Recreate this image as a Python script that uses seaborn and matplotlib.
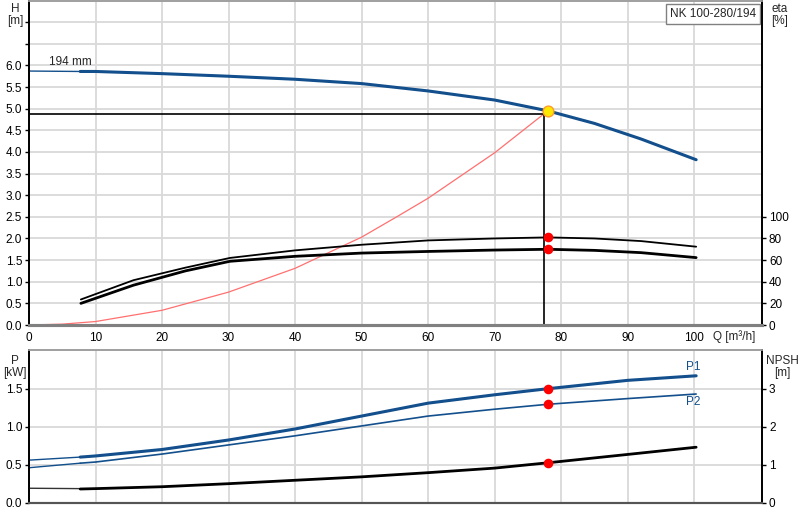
import numpy as np
import pandas as pd
import seaborn as sns
import matplotlib.pyplot as plt

# Pump curve data
q_ext = [0, 7.7]
h_ext = [5.87, 5.86]
q_h = [7.7, 10, 20, 30, 40, 50, 60, 70, 78, 85, 92, 100.3]
h_vals = [5.86, 5.86, 5.81, 5.75, 5.68, 5.58, 5.41, 5.20, 4.95, 4.66, 4.30, 3.82]

q_eta = [7.8, 15.7, 23.5, 30.2, 40, 50, 60, 70, 78, 85, 92, 100.3]
eta_pump = [23.6, 41.4, 53, 62, 69, 74.2, 78.2, 80, 81, 80, 77.6, 72.4]
eta_total = [20, 36.8, 50, 58.9, 63.5, 66.5, 68, 69.3, 70, 69, 66.9, 62.3]

q_sys = [0, 5, 10, 20, 30, 40, 50, 55.5, 60, 70, 78]
h_sys = [0, 0.02, 0.08, 0.34, 0.76, 1.31, 2.03, 2.52, 2.93, 3.98, 4.95]

q_p = [7.7, 10, 20, 30, 40, 50, 60, 70, 78, 90, 100.3]
p1_vals = [0.60, 0.615, 0.70, 0.825, 0.97, 1.14, 1.31, 1.42, 1.50, 1.61, 1.67]
p2_vals = [0.52, 0.535, 0.64, 0.76, 0.88, 1.01, 1.14, 1.23, 1.295, 1.37, 1.43]
npsh_vals = [0.36, 0.37, 0.42, 0.50, 0.59, 0.68, 0.79, 0.91, 1.05, 1.27, 1.46]
p1_ext = [0.56, 0.60]
p2_ext = [0.46, 0.52]
npsh_ext = [0.38, 0.37]

# Duty point
q_duty = 78
h_duty = 4.95
q_req = 77.4
h_req = 4.88
eta_duty = [81, 70]
p_duty = [1.50, 1.295]
npsh_duty = 1.05

x_ticks = [0, 10, 20, 30, 40, 50, 60, 70, 80, 90, 100]

sns.set_theme(style="white")
plt.rcParams["font.family"] = ["Liberation Sans", "DejaVu Sans"]
plt.rcParams["font.size"] = 8.5

blue = "#124f8c"
grid_c = "#d9d9d9"

fig = plt.figure(figsize=(8, 5.2), dpi=100)
ax = fig.add_axes([0.03625, 0.375, 0.91625, 0.624])
ax_b = fig.add_axes([0.03625, 0.0333, 0.91625, 0.2937])

# --- top panel: head and efficiency ---
ax.set_xlim(0, 110.2)
ax.set_ylim(0, 7.5)
ax.set_xticks(x_ticks)
ax.set_yticks(np.arange(0, 7.01, 0.5))
ax.set_yticklabels([f"{v:.1f}" if v <= 6.0 else "" for v in np.arange(0, 7.01, 0.5)])
ax.grid(True, color=grid_c, lw=1.3)
ax.set_axisbelow(True)

sns.lineplot(x=q_ext, y=h_ext, ax=ax, color=blue, lw=1.0, sort=False)
sns.lineplot(x=q_h, y=h_vals, ax=ax, color=blue, lw=2.2, sort=False)
sns.lineplot(x=q_sys, y=h_sys, ax=ax, color="#ff7070", lw=0.9, sort=False)
ax.plot([0, q_req, q_req], [h_req, h_req, 0], color="black", lw=1.2)
ax.scatter([q_duty], [h_duty], s=60, color="#ffe800", edgecolor="#ff9c2a", lw=1, zorder=5)
ax.text(3, 5.95, "194 mm", fontsize=8.5, va="bottom")

ax2 = ax.twinx()
ax2.set_ylim(0, 300)
ax2.set_yticks([0, 20, 40, 60, 80, 100])
sns.lineplot(x=q_eta, y=eta_pump, ax=ax2, color="black", lw=1.3, sort=False)
sns.lineplot(x=q_eta, y=eta_total, ax=ax2, color="black", lw=2.0, sort=False)
ax2.scatter([q_duty, q_duty], eta_duty, s=35, color="red", zorder=5)

for a in (ax, ax2):
    a.set_xlabel("")
    a.set_ylabel("")
    a.spines["left"].set_color("black")
    a.spines["right"].set_color("black")
    a.spines["bottom"].set_color("#808080")
    a.spines["bottom"].set_linewidth(2.2)
    a.spines["top"].set_color("#a0a0a0")
    a.tick_params(length=3, width=1, pad=2, labelsize=8.5, colors="black")
ax.tick_params(axis="x", length=3, color="#808080")

fig.text(0.019, 0.995, "H", ha="center", va="top", fontsize=8.5)
fig.text(0.019, 0.972, "[m]", ha="center", va="top", fontsize=8.5)
fig.text(0.975, 0.995, "eta", ha="center", va="top", fontsize=8.5)
fig.text(0.975, 0.972, "[%]", ha="center", va="top", fontsize=8.5)
ax.text(0.962, -0.015, "Q [m³/h]", transform=ax.transAxes, ha="center", va="top", fontsize=8.5)
ax.text(0.992, 0.978, "NK 100-280/194", transform=ax.transAxes, ha="right", va="top",
        fontsize=8.5, bbox=dict(boxstyle="square,pad=0.35", fc="white", ec="#808080", lw=1))

# --- bottom panel: power and NPSH ---
ax_b.set_xlim(0, 110.2)
ax_b.set_ylim(0, 2.01)
ax_b.set_xticks(x_ticks)
ax_b.set_xticklabels([])
ax_b.set_yticks([0, 0.5, 1.0, 1.5])
ax_b.set_yticklabels(["0.0", "0.5", "1.0", "1.5"])
ax_b.grid(True, color=grid_c, lw=1.3)
ax_b.set_axisbelow(True)

sns.lineplot(x=q_ext, y=p1_ext, ax=ax_b, color=blue, lw=1.0, sort=False)
sns.lineplot(x=q_p, y=p1_vals, ax=ax_b, color=blue, lw=2.2, sort=False)
sns.lineplot(x=q_ext, y=p2_ext, ax=ax_b, color=blue, lw=1.0, sort=False)
sns.lineplot(x=q_p, y=p2_vals, ax=ax_b, color=blue, lw=1.2, sort=False)
ax_b.scatter([q_duty, q_duty], p_duty, s=35, color="red", zorder=5)
ax_b.text(q_p[-1] - 0.5, p1_vals[-1] + 0.04, "P1", color=blue, fontsize=8.5, ha="center", va="bottom")
ax_b.text(q_p[-1] - 0.5, p2_vals[-1] - 0.03, "P2", color=blue, fontsize=8.5, ha="center", va="top")

ax_b2 = ax_b.twinx()
ax_b2.set_ylim(0, 4.02)
ax_b2.set_yticks([0, 1, 2, 3])
sns.lineplot(x=q_ext, y=npsh_ext, ax=ax_b2, color="#333333", lw=1.0, sort=False)
sns.lineplot(x=q_p, y=npsh_vals, ax=ax_b2, color="black", lw=2.0, sort=False)
ax_b2.scatter([q_duty], [npsh_duty], s=35, color="red", zorder=5)

for a in (ax_b, ax_b2):
    a.set_xlabel("")
    a.set_ylabel("")
    a.spines["left"].set_color("black")
    a.spines["right"].set_color("black")
    a.spines["bottom"].set_color("#555555")
    a.spines["bottom"].set_linewidth(1.5)
    a.spines["top"].set_color("#a0a0a0")
    a.tick_params(length=3, width=1, pad=2, labelsize=8.5, colors="black")
ax_b.tick_params(axis="x", length=0)

fig.text(0.019, 0.318, "P", ha="center", va="top", fontsize=8.5)
fig.text(0.019, 0.295, "[kW]", ha="center", va="top", fontsize=8.5)
fig.text(0.978, 0.318, "NPSH", ha="center", va="top", fontsize=8.5)
fig.text(0.978, 0.295, "[m]", ha="center", va="top", fontsize=8.5)

fig.savefig("out.png", dpi=100)
